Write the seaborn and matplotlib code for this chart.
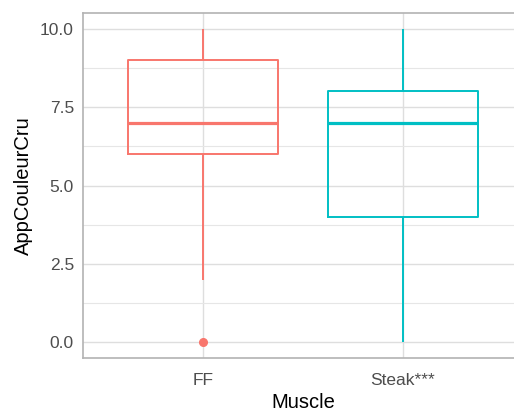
import pandas as pd
import matplotlib
matplotlib.use("Agg")
import matplotlib.pyplot as plt
import seaborn as sns

# raw scores per muscle (chosen to reproduce the box statistics)
ff_scores = [0, 2, 6, 6, 7, 7, 9, 9, 9, 10]
steak_scores = [0, 3, 4, 4, 6, 7, 7, 8, 8, 9, 10]
muscles = ["FF", "Steak***"]
colors = ["#F8766D", "#00BFC4"]
yticks = [0.0, 2.5, 5.0, 7.5, 10.0]
yminor = [1.25, 3.75, 6.25, 8.75]

df = pd.DataFrame({
    "Muscle": [muscles[0]] * len(ff_scores) + [muscles[1]] * len(steak_scores),
    "AppCouleurCru": ff_scores + steak_scores,
})

sns.set_theme(style="white")
plt.rcParams["font.family"] = ["Liberation Sans", "DejaVu Sans"]

fig = plt.figure(figsize=(5.14, 4.11), dpi=100)
# panel runs past the right edge, as in the cropped original
ax = fig.add_axes([83 / 514, 53 / 411, 440 / 514, 345 / 411])

sns.boxplot(data=df, x="Muscle", y="AppCouleurCru", hue="Muscle",
            palette=colors, fill=False, width=0.75, linewidth=1.4,
            showcaps=False, legend=False, ax=ax,
            medianprops={"linewidth": 2.3},
            flierprops={"marker": "o", "markersize": 5.5})

# ggplot-style filled outlier points
for ln in ax.lines:
    if ln.get_marker() == "o":
        ln.set_markerfacecolor(ln.get_markeredgecolor())

ax.set_xlim(-0.6, 1.6)
ax.set_ylim(-0.5, 10.5)
ax.set_yticks(yticks)
ax.set_yticklabels([f"{v:.1f}" for v in yticks])
ax.set_yticks(yminor, minor=True)

ax.grid(True, which="major", color="#DEDEDE", linewidth=1.0)
ax.grid(True, which="minor", axis="y", color="#E6E6E6", linewidth=0.8)
ax.set_axisbelow(True)

for s in ax.spines.values():
    s.set_color("#B3B3B3")
    s.set_linewidth(1.2)
ax.spines["right"].set_visible(False)

ax.tick_params(axis="both", which="major", colors="#B3B3B3", length=4.5, width=1,
               labelcolor="#4D4D4D", labelsize=12.5)
ax.tick_params(axis="x", pad=6)
ax.tick_params(axis="y", pad=2)
ax.tick_params(axis="y", which="minor", length=0)

ax.set_xlabel("Muscle", fontsize=14.5, color="black", labelpad=4)
ax.set_ylabel("AppCouleurCru", fontsize=14.5, color="black", labelpad=5)

fig.savefig("out.png", dpi=100)
